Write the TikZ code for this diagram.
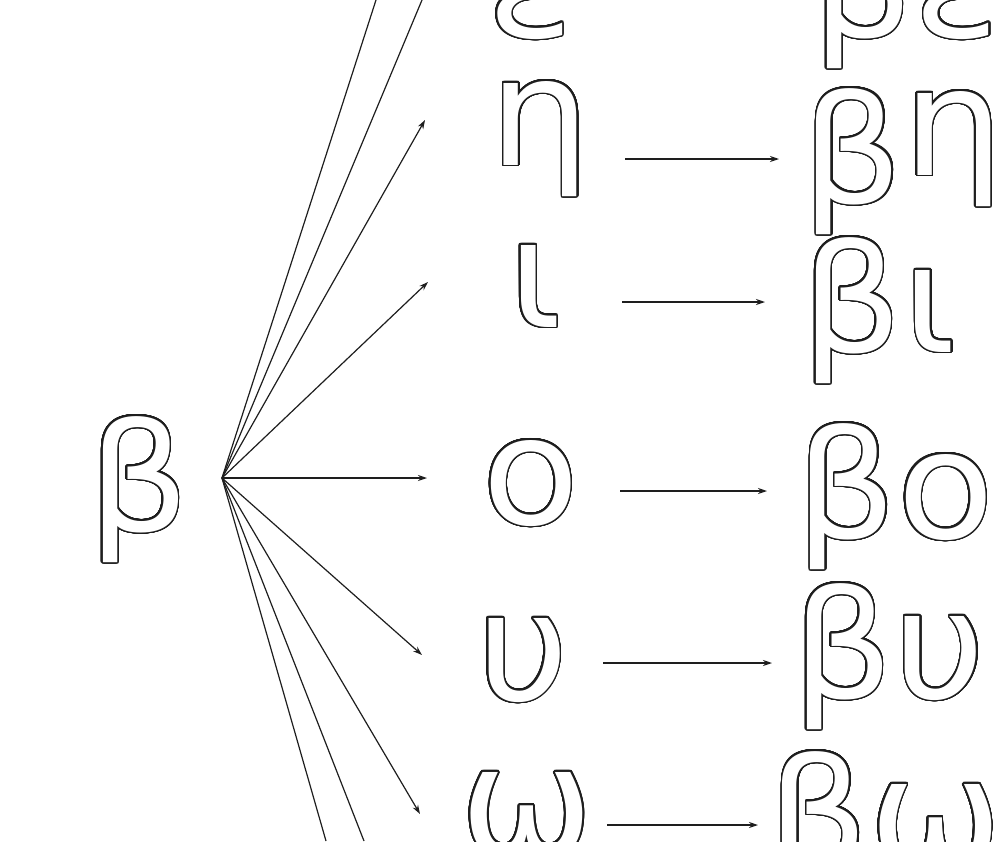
\documentclass[tikz,border=0pt]{standalone}
\usepackage{fontspec}
\usepackage{contour}
\usetikzlibrary{arrows.meta}
\newfontfamily\gk[FakeStretch=1.06]{DejaVu Sans}
\contourlength{1.6pt}
\contournumber{48}
\definecolor{ink}{HTML}{1E1E1E}
\newcommand{\hollow}[1]{\contour{ink}{#1}}
\tikzset{
  letter/.style={inner sep=0pt, anchor=base, text=white, font=\gk\fontsize{150}{150}\selectfont},
  fanline/.style={draw=ink, line width=1.2pt},
  arr/.style={fanline, -{Stealth[length=9pt,width=6pt]}},
}
\begin{document}
\begin{tikzpicture}[x=1pt,y=-1pt]
\useasboundingbox (0,0) rectangle (1004,841);
\fill[white] (0,0) rectangle (1004,841);
\clip (0,0) rectangle (1004,841);

% left beta
\node[letter] (beta) at (139,531) {\hollow{β}};

% middle letters
\node[letter] (eps) at (530,37) {\hollow{ε}};
\node[letter] (eta) at (540,165) {\hollow{η}};
\node[letter] (iota) at (535,327) {\hollow{ι}};
\node[letter] (omi) at (531,524) {\hollow{ο}};
\node[letter] (ups) at (523,700) {\hollow{υ}};
\node[letter] (ome) at (527,854) {\hollow{ω}};

% right words
\node[letter] (beps) at (906,37) {\hollow{βε}};
\node[letter] (beta2) at (903,203) {\hollow{β\raisebox{28pt}{η}}};
\node[letter] (biota) at (879,352) {\hollow{βι}};
\node[letter] (bomi) at (895,538) {\hollow{βο}};
\node[letter] (bups) at (889,698) {\hollow{βυ}};
\node[letter] (bome) at (885,866) {\hollow{βω}};

% fan
\coordinate (fan) at (222,478);
\coordinate (topA) at (376,0);
\coordinate (topB) at (422,0);
\coordinate (tEta) at (425,120);
\coordinate (tIota) at (428,282);
\coordinate (tOmi) at (427,478);
\coordinate (tUps) at (422,655);
\coordinate (tOme) at (420,814);
\coordinate (botA) at (326,841);
\coordinate (botB) at (364,841);

\draw[fanline] (fan) -- (topA);
\draw[fanline] (fan) -- (topB);
\draw[arr] (fan) -- (tEta);
\draw[arr] (fan) -- (tIota);
\draw[arr] (fan) -- (tOmi);
\draw[arr] (fan) -- (tUps);
\draw[arr] (fan) -- (tOme);
\draw[fanline] (fan) -- (botA);
\draw[fanline] (fan) -- (botB);

% horizontal arrows
\coordinate (hEtaS) at (625,159);  \coordinate (hEtaE) at (779,159);
\coordinate (hIotaS) at (622,302); \coordinate (hIotaE) at (765,302);
\coordinate (hOmiS) at (620,491);  \coordinate (hOmiE) at (767,491);
\coordinate (hUpsS) at (603,663);  \coordinate (hUpsE) at (772,663);
\coordinate (hOmeS) at (607,825);  \coordinate (hOmeE) at (758,825);
\draw[arr] (hEtaS) -- (hEtaE);
\draw[arr] (hIotaS) -- (hIotaE);
\draw[arr] (hOmiS) -- (hOmiE);
\draw[arr] (hUpsS) -- (hUpsE);
\draw[arr] (hOmeS) -- (hOmeE);
\end{tikzpicture}
\end{document}
